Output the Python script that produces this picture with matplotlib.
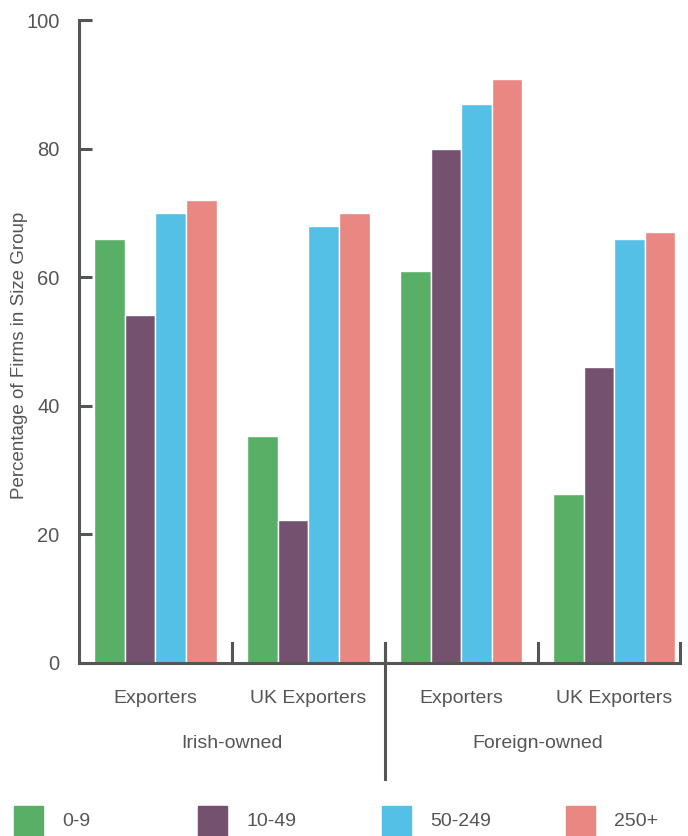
import matplotlib
matplotlib.use('Agg')
import matplotlib.pyplot as plt
from matplotlib.patches import Rectangle
from matplotlib.lines import Line2D
import numpy as np

# Data
categories = ['Exporters', 'UK Exporters', 'Exporters', 'UK Exporters']
ownership = ['Irish-owned', 'Foreign-owned']
size_groups = ['0-9', '10-49', '50-249', '250+']
size_0_9 = [66, 35.3, 61, 26.3]
size_10_49 = [54.1, 22.2, 80, 46]
size_50_249 = [70, 68, 86.9, 66]
size_250_plus = [72, 70, 90.8, 67]
yticks = [0, 20, 40, 60, 80, 100]

COLORS = ['#5aaf67', '#74516f', '#54c0e6', '#e98782']
AXIS = '#555555'
TEXT = '#555555'

plt.rcParams['font.family'] = ['Liberation Sans', 'DejaVu Sans']

W, H = 688, 836
fig = plt.figure(figsize=(W / 100, H / 100), dpi=100)
ax = fig.add_axes([79 / W, 1 - 663 / H, (680 - 79) / W, (663 - 20) / H])

series = [size_0_9, size_10_49, size_50_249, size_250_plus]
x = np.arange(len(categories))
bw = 0.2
for i, (vals, col) in enumerate(zip(series, COLORS)):
    ax.bar(x + (i - 1.5) * bw, vals, bw, color=col, edgecolor='white',
           linewidth=1.0, zorder=2)

ax.set_xlim(-0.5, 3.43)
ax.set_ylim(0, 100)
ax.set_yticks(yticks)
ax.tick_params(axis='y', direction='in', length=9, width=2.2, color=AXIS,
               labelcolor=TEXT, labelsize=14.5, pad=14)
ax.set_xticks([])
for s in ['top', 'right']:
    ax.spines[s].set_visible(False)
for s in ['left', 'bottom']:
    ax.spines[s].set_color(AXIS)
    ax.spines[s].set_linewidth(2.2)

# group separator ticks on the x axis
trans = ax.get_xaxis_transform()
for b in [0.5, 1.5, 2.5, 3.43]:
    ax.plot([b, b], [0, 0.031], color=AXIS, lw=2.2, transform=trans,
            clip_on=False, zorder=3)
# long divider between ownership groups
ax.add_line(Line2D([1.5, 1.5], [0.031, -0.18], color=AXIS, lw=2.2,
                   transform=trans, clip_on=False))

for xi, lab in zip(x, categories):
    ax.text(xi, -0.055, lab, transform=trans, ha='center', va='center',
            fontsize=14, color=TEXT)
for xi, lab in zip([0.5, 2.5], ownership):
    ax.text(xi, -0.125, lab, transform=trans, ha='center', va='center',
            fontsize=14, color=TEXT)

fig.text(20 / W, 1 - 355 / H, 'Percentage of Firms in Size Group',
         rotation=90, ha='center', va='center', fontsize=13.5, color=TEXT)

# legend along the bottom edge
for i, (lab, col) in enumerate(zip(size_groups, COLORS)):
    x0 = 14 + i * 184
    fig.patches.append(Rectangle((x0 / W, 1 - 836 / H), 29 / W, 30 / H,
                                 color=col, transform=fig.transFigure))
    fig.text((x0 + 48) / W, 1 - 822 / H, lab, ha='left', va='center',
             fontsize=14, color=TEXT)

fig.savefig('out.png', dpi=100, facecolor='white')
